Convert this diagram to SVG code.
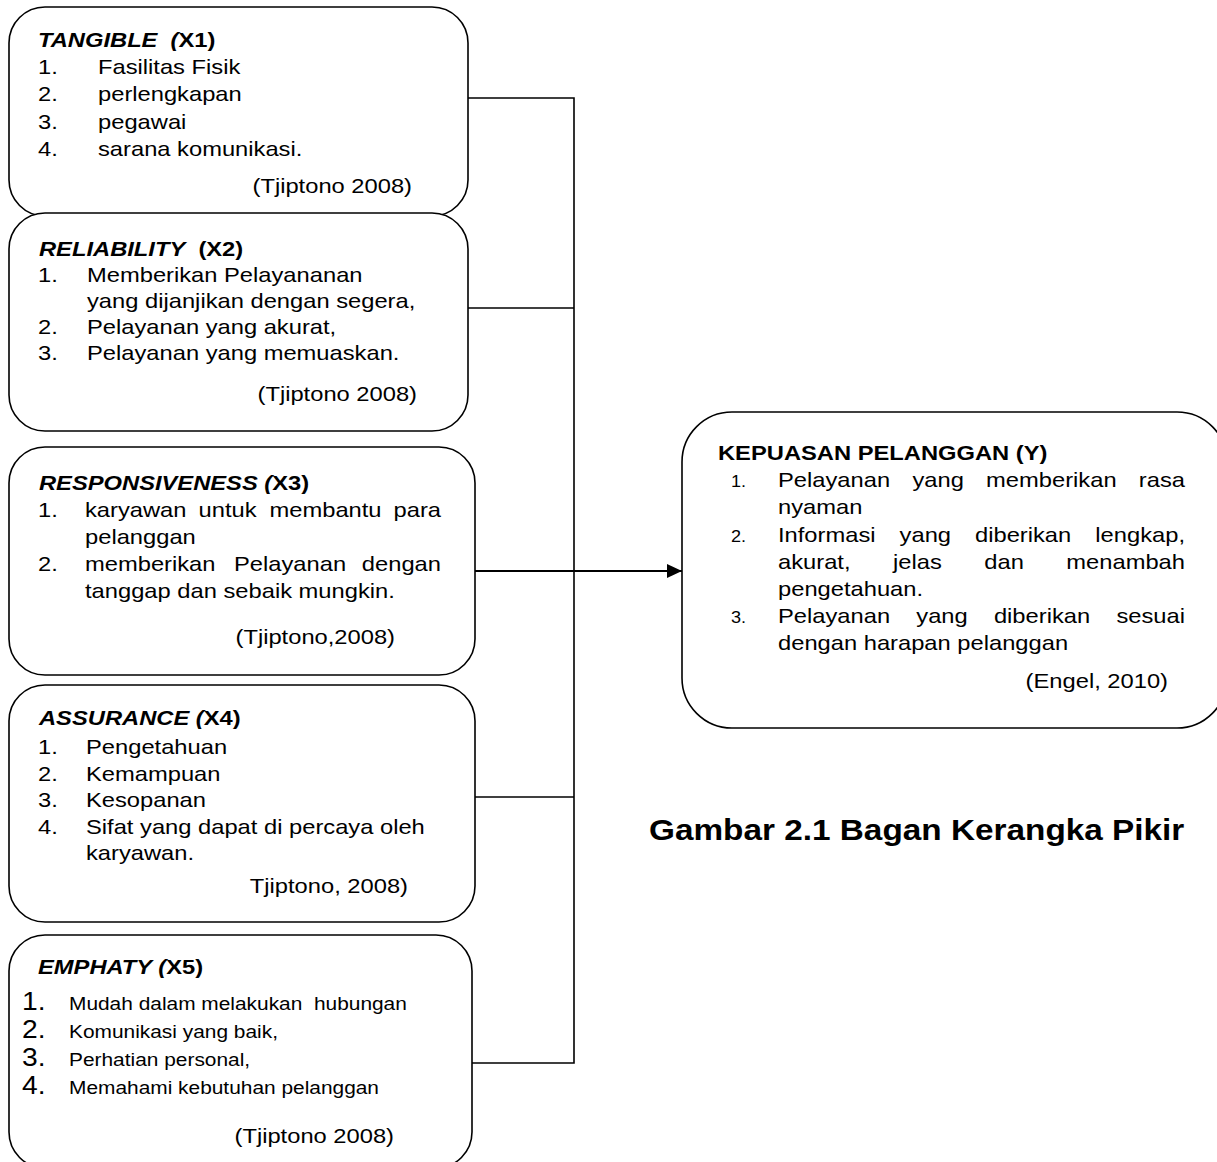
<svg xmlns="http://www.w3.org/2000/svg" width="1217" height="1162" viewBox="0 0 1217 1162">
<style>
.box{fill:#fff;stroke:#000;stroke-width:1.6}
.t{font-family:"Liberation Sans",Arial,sans-serif;font-size:21px;fill:#000}
.s{font-size:18.5px}
.n{font-size:25px}
.rn{font-size:16px}
.b{font-weight:bold}
.i{font-style:italic}
.e{text-anchor:end}
.cap{font-size:29.5px;font-weight:bold}
.ln{fill:none;stroke:#000;stroke-width:1.6}
</style>
<defs>
<marker id="arr" markerWidth="16" markerHeight="16" refX="15" refY="7" orient="auto" markerUnits="userSpaceOnUse">
<path d="M0,0 L15,7 L0,14 Z" fill="#000"/>
</marker>
</defs>
<rect width="1217" height="1162" fill="#fff"/>

<g id="connectors">
<path class="ln" d="M468,98 H574 V1063 H472"/>
<path class="ln" d="M468,308 H574"/>
<path class="ln" d="M475,797 H574"/>
<path class="ln" d="M475,571 H682" style="stroke-width:2" marker-end="url(#arr)"/>
</g>

<g id="tangible">
<rect class="box" x="9" y="7" width="459" height="209" rx="36"/>
<text class="t b" xml:space="preserve" transform="translate(38,47) scale(1.13,1)"><tspan class="i">TANGIBLE  (</tspan>X1)</text>
<text class="t" transform="translate(38,74) scale(1.13,1)">1.</text>
<text class="t" transform="translate(98,74) scale(1.13,1)">Fasilitas Fisik</text>
<text class="t" transform="translate(38,101) scale(1.13,1)">2.</text>
<text class="t" transform="translate(98,101) scale(1.13,1)">perlengkapan</text>
<text class="t" transform="translate(38,129) scale(1.13,1)">3.</text>
<text class="t" transform="translate(98,129) scale(1.13,1)">pegawai</text>
<text class="t" transform="translate(38,156) scale(1.13,1)">4.</text>
<text class="t" transform="translate(98,156) scale(1.13,1)">sarana komunikasi.</text>
<text class="t e" transform="translate(412,193) scale(1.13,1)">(Tjiptono 2008)</text>
</g>

<g id="reliability">
<rect class="box" x="9" y="213" width="459" height="218" rx="36"/>
<text class="t b" xml:space="preserve" transform="translate(39,256) scale(1.13,1)"><tspan class="i">RELIABILITY</tspan>  (X2)</text>
<text class="t" transform="translate(38,282) scale(1.13,1)">1.</text>
<text class="t" transform="translate(87,282) scale(1.13,1)">Memberikan Pelayananan</text>
<text class="t" transform="translate(87,308) scale(1.13,1)">yang dijanjikan dengan segera,</text>
<text class="t" transform="translate(38,334) scale(1.13,1)">2.</text>
<text class="t" transform="translate(87,334) scale(1.13,1)">Pelayanan yang akurat,</text>
<text class="t" transform="translate(38,360) scale(1.13,1)">3.</text>
<text class="t" transform="translate(87,360) scale(1.13,1)">Pelayanan yang memuaskan.</text>
<text class="t e" transform="translate(417,401) scale(1.13,1)">(Tjiptono 2008)</text>
</g>

<g id="responsiveness">
<rect class="box" x="9" y="447" width="466" height="228" rx="36"/>
<text class="t b" transform="translate(39,490) scale(1.13,1)"><tspan class="i">RESPONSIVENESS (</tspan>X3)</text>
<text class="t" transform="translate(38,517) scale(1.13,1)">1.</text>
<text class="t" transform="translate(85,517) scale(1.13,1)">karyawan</text>
<text class="t" transform="translate(198.5,517) scale(1.13,1)">untuk</text>
<text class="t" transform="translate(269.5,517) scale(1.13,1)">membantu</text>
<text class="t e" transform="translate(441,517) scale(1.13,1)">para</text>
<text class="t" transform="translate(85,544) scale(1.13,1)">pelanggan</text>
<text class="t" transform="translate(38,571) scale(1.13,1)">2.</text>
<text class="t" transform="translate(85,571) scale(1.13,1)">memberikan</text>
<text class="t" transform="translate(234,571) scale(1.13,1)">Pelayanan</text>
<text class="t e" transform="translate(441,571) scale(1.13,1)">dengan</text>
<text class="t" transform="translate(85,598) scale(1.13,1)">tanggap dan sebaik mungkin.</text>
<text class="t e" transform="translate(395,644) scale(1.13,1)">(Tjiptono,2008)</text>
</g>

<g id="assurance">
<rect class="box" x="9" y="685" width="466" height="237" rx="36"/>
<text class="t b" transform="translate(39,725) scale(1.13,1)"><tspan class="i">ASSURANCE (</tspan>X4)</text>
<text class="t" transform="translate(38,754) scale(1.13,1)">1.</text>
<text class="t" transform="translate(86,754) scale(1.13,1)">Pengetahuan</text>
<text class="t" transform="translate(38,781) scale(1.13,1)">2.</text>
<text class="t" transform="translate(86,781) scale(1.13,1)">Kemampuan</text>
<text class="t" transform="translate(38,807) scale(1.13,1)">3.</text>
<text class="t" transform="translate(86,807) scale(1.13,1)">Kesopanan</text>
<text class="t" transform="translate(38,834) scale(1.13,1)">4.</text>
<text class="t" transform="translate(86,834) scale(1.13,1)">Sifat yang dapat di percaya oleh</text>
<text class="t" transform="translate(86,860) scale(1.13,1)">karyawan.</text>
<text class="t e" transform="translate(408,893) scale(1.13,1)">Tjiptono, 2008)</text>
</g>

<g id="emphaty">
<rect class="box" x="9" y="935" width="463" height="233" rx="36"/>
<text class="t b" transform="translate(38,974) scale(1.13,1)"><tspan class="i">EMPHATY (</tspan>X5)</text>
<text class="t n" transform="translate(22,1010) scale(1.13,1)">1.</text>
<text class="t s" xml:space="preserve" transform="translate(69,1010) scale(1.13,1)">Mudah dalam melakukan  hubungan</text>
<text class="t n" transform="translate(22,1038) scale(1.13,1)">2.</text>
<text class="t s" transform="translate(69,1038) scale(1.13,1)">Komunikasi yang baik,</text>
<text class="t n" transform="translate(22,1066) scale(1.13,1)">3.</text>
<text class="t s" transform="translate(69,1066) scale(1.13,1)">Perhatian personal,</text>
<text class="t n" transform="translate(22,1094) scale(1.13,1)">4.</text>
<text class="t s" transform="translate(69,1094) scale(1.13,1)">Memahami kebutuhan pelanggan</text>
<text class="t e" transform="translate(394,1143) scale(1.13,1)">(Tjiptono 2008)</text>
</g>

<g id="kepuasan">
<rect class="box" x="682" y="412" width="545" height="316" rx="50"/>
<text class="t b" transform="translate(718,460) scale(1.13,1)">KEPUASAN PELANGGAN (Y)</text>
<text class="t rn" transform="translate(731,487) scale(1.13,1)">1.</text>
<text class="t" transform="translate(778,487) scale(1.13,1)">Pelayanan</text>
<text class="t" transform="translate(912.4,487) scale(1.13,1)">yang</text>
<text class="t" transform="translate(986.1,487) scale(1.13,1)">memberikan</text>
<text class="t e" transform="translate(1185,487) scale(1.13,1)">rasa</text>
<text class="t" transform="translate(778,514) scale(1.13,1)">nyaman</text>
<text class="t rn" transform="translate(731,542) scale(1.13,1)">2.</text>
<text class="t" transform="translate(778,542) scale(1.13,1)">Informasi</text>
<text class="t" transform="translate(899.6,542) scale(1.13,1)">yang</text>
<text class="t" transform="translate(975,542) scale(1.13,1)">diberikan</text>
<text class="t e" transform="translate(1185,542) scale(1.13,1)">lengkap,</text>
<text class="t" transform="translate(778,569) scale(1.13,1)">akurat,</text>
<text class="t" transform="translate(893,569) scale(1.13,1)">jelas</text>
<text class="t" transform="translate(984.3,569) scale(1.13,1)">dan</text>
<text class="t e" transform="translate(1185,569) scale(1.13,1)">menambah</text>
<text class="t" transform="translate(778,596) scale(1.13,1)">pengetahuan.</text>
<text class="t rn" transform="translate(731,623) scale(1.13,1)">3.</text>
<text class="t" transform="translate(778,623) scale(1.13,1)">Pelayanan</text>
<text class="t" transform="translate(916.3,623) scale(1.13,1)">yang</text>
<text class="t" transform="translate(993.9,623) scale(1.13,1)">diberikan</text>
<text class="t e" transform="translate(1185,623) scale(1.13,1)">sesuai</text>
<text class="t" transform="translate(778,650) scale(1.13,1)">dengan harapan pelanggan</text>
<text class="t e" transform="translate(1168,688) scale(1.13,1)">(Engel, 2010)</text>
</g>

<g id="caption">
<text class="t cap" transform="translate(649,840) scale(1.13,1)">Gambar 2.1 Bagan Kerangka Pikir</text>
</g>
</svg>
